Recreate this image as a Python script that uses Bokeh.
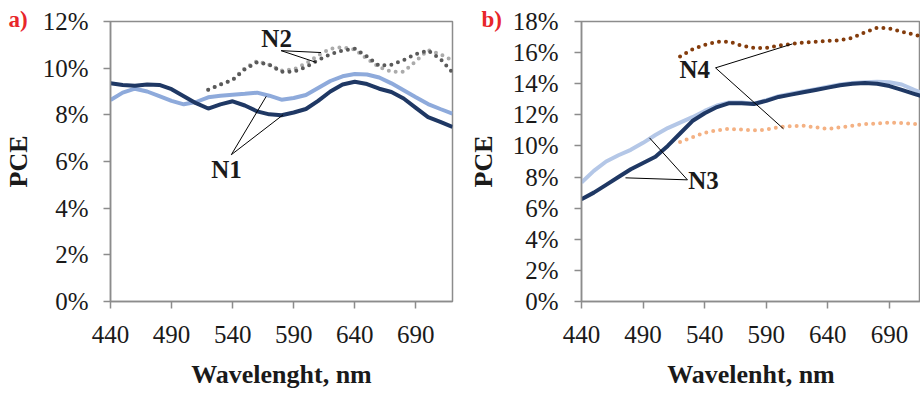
from bokeh.plotting import figure
from bokeh.layouts import row
from bokeh.models import Title, FixedTicker, PrintfTickFormatter
from bokeh.core.properties import value
from bokeh.embed import file_html
from bokeh.resources import INLINE

FONT = "Liberation Serif"

# ---------------- data: panel a ----------------
wl_a = [440, 450, 460, 470, 480, 490, 500, 510, 520, 530, 540, 550, 560, 570, 580,
        590, 600, 610, 620, 630, 640, 650, 660, 670, 680, 690, 700, 710, 720]
n1_dark = [9.35, 9.28, 9.25, 9.3, 9.28, 9.1, 8.8, 8.5, 8.27, 8.45, 8.58, 8.4, 8.15, 8.02, 7.98,
           8.1, 8.25, 8.6, 9.0, 9.3, 9.42, 9.32, 9.12, 8.98, 8.7, 8.3, 7.9, 7.7, 7.48]
n1_light = [8.63, 8.95, 9.12, 9.0, 8.8, 8.6, 8.45, 8.55, 8.75, 8.82, 8.86, 8.9, 8.95, 8.82, 8.65,
            8.72, 8.85, 9.15, 9.45, 9.65, 9.75, 9.73, 9.6, 9.35, 9.05, 8.75, 8.46, 8.25, 8.05]
wl_a2 = [520, 530, 540, 550, 560, 570, 580, 590, 600, 610, 620, 630, 640, 650, 660,
         670, 680, 690, 700, 710, 720]
n2_dark = [9.08, 9.3, 9.5, 9.95, 10.25, 10.15, 9.85, 9.85, 10.05, 10.35, 10.6, 10.75, 10.83, 10.5, 10.1,
           10.15, 10.35, 10.6, 10.75, 10.4, 9.82]
n2_light = [9.08, 9.3, 9.5, 10.0, 10.3, 10.15, 9.9, 9.95, 10.2, 10.55, 10.83, 10.9, 10.8, 10.4, 10.05,
            9.85, 9.85, 10.3, 10.78, 10.6, 10.33]

# ---------------- data: panel b ----------------
wl_b = [440, 450, 460, 470, 480, 490, 500, 510, 520, 530, 540, 550, 560, 570, 580,
        590, 600, 610, 620, 630, 640, 650, 660, 670, 680, 690, 700, 710, 720]
n3_dark = [6.58, 7.0, 7.5, 8.0, 8.5, 8.9, 9.3, 10.0, 10.8, 11.6, 12.1, 12.5, 12.75, 12.75, 12.7,
           12.9, 13.15, 13.3, 13.45, 13.6, 13.75, 13.9, 14.0, 14.05, 14.0, 13.85, 13.6, 13.35, 13.1]
n3_light = [7.65, 8.4, 9.0, 9.4, 9.75, 10.2, 10.7, 11.15, 11.5, 11.85, 12.25, 12.6, 12.8, 12.8, 12.72,
            12.95, 13.2, 13.35, 13.5, 13.65, 13.8, 13.95, 14.05, 14.1, 14.12, 14.1, 13.95, 13.6, 13.3]
wl_b2 = [520, 530, 540, 550, 560, 570, 580, 590, 600, 610, 620, 630, 640, 650, 660,
         670, 680, 690, 700, 710, 720]
n4_dark = [15.75, 16.2, 16.5, 16.7, 16.7, 16.45, 16.3, 16.3, 16.45, 16.55, 16.65, 16.7, 16.75, 16.8, 16.95,
           17.3, 17.6, 17.55, 17.35, 17.15, 16.95]
n4_light = [10.25, 10.55, 10.85, 11.0, 11.1, 11.05, 11.0, 11.05, 11.2, 11.28, 11.3, 11.2, 11.1, 11.2, 11.3,
            11.4, 11.45, 11.5, 11.48, 11.42, 11.4]

x_ticks = [440, 490, 540, 590, 640, 690]
ya_ticks = [0, 2, 4, 6, 8, 10, 12]
yb_ticks = [0, 2, 4, 6, 8, 10, 12, 14, 16, 18]

# annotations (data units): label text/pos and leader segments
ann_a_text = ["N2", "N1"]
ann_a_x = [576.0, 535.0]
ann_a_y = [11.29, 5.67]
lead_a_x0 = [579.7, 579.7, 538.9, 538.9]
lead_a_y0 = [10.75, 10.75, 6.29, 6.29]
lead_a_x1 = [612.4, 608.3, 567.5, 581.3]
lead_a_y1 = [10.67, 10.25, 8.79, 8.0]

ann_b_text = ["N4", "N3"]
ann_b_x = [532.0, 539.0]
ann_b_y = [14.89, 7.76]
lead_b_x0 = [548.8, 548.8, 526.0, 526.0]
lead_b_y0 = [15.02, 15.02, 7.82, 7.82]
lead_b_x1 = [611.3, 604.0, 475.7, 495.2]
lead_b_y1 = [16.56, 11.1, 7.95, 10.52]

FRAME = "#8c8c8c"


def style(p, yticks, xlabel, ystand, ylabstand):
    p.xgrid.visible = False
    p.ygrid.visible = False
    p.outline_line_color = FRAME
    p.outline_line_width = 1.5
    p.background_fill_color = "white"
    p.border_fill_color = "white"
    for ax in (p.xaxis[0], p.yaxis[0]):
        ax.axis_line_color = FRAME
        ax.axis_line_width = 1.5
        ax.major_tick_line_color = FRAME
        ax.major_tick_line_width = 1.5
        ax.major_tick_out = 7
        ax.major_tick_in = 0
        ax.minor_tick_out = 0
        ax.minor_tick_in = 0
        ax.major_label_text_font = FONT
        ax.major_label_text_font_size = "25px"
        ax.major_label_text_color = "#1a1a1a"
        ax.axis_label_text_font = FONT
        ax.axis_label_text_font_style = "bold"
        ax.axis_label_text_font_size = "26px"
        ax.axis_label_text_color = "#1a1a1a"
    p.xaxis[0].ticker = FixedTicker(ticks=x_ticks)
    p.yaxis[0].ticker = FixedTicker(ticks=yticks)
    p.yaxis[0].formatter = PrintfTickFormatter(format="%d%%")
    p.xaxis[0].axis_label = xlabel
    p.yaxis[0].axis_label = "PCE"
    p.xaxis[0].major_label_standoff = 17
    p.xaxis[0].axis_label_standoff = 14
    p.yaxis[0].major_label_standoff = ystand
    p.yaxis[0].axis_label_standoff = ylabstand


def dotted(p, x, y, color):
    p.line(x, y, line_color=color, line_width=4, line_dash="0 7", line_cap="round")


def tag(p, text, shift):
    # panel tag drawn as a title shifted left of the frame (side panels are not clipped)
    t = Title(text=text, align="left", vertical_align="top", offset=shift, standoff=-30,
              text_font=FONT, text_font_style="bold", text_font_size="23px",
              text_color="#e8262a")
    p.add_layout(t, "above")


# ---------------- panel a ----------------
pa = figure(width=460, height=394, x_range=(440, 720), y_range=(0, 12),
            output_backend="svg", toolbar_location=None,
            min_border_left=109, min_border_right=8, min_border_top=17, min_border_bottom=89)
style(pa, ya_ticks, "Wavelenght, nm", 15, 7)
dotted(pa, wl_a2, n2_light, "#ababab")
dotted(pa, wl_a2, n2_dark, "#5a5a5a")
pa.line(wl_a, n1_light, line_color="#8eaadb", line_width=4)
pa.line(wl_a, n1_dark, line_color="#1f3864", line_width=4)
pa.segment(lead_a_x0, lead_a_y0, lead_a_x1, lead_a_y1, line_color="black", line_width=1)
pa.text(x=ann_a_x, y=ann_a_y, text=ann_a_text, text_font=value(FONT), text_font_style="bold",
        text_font_size="25px", text_align="center", text_baseline="middle", text_color="#1a1a1a")
tag(pa, "a)", -102)

# ---------------- panel b ----------------
pb = figure(width=460, height=394, x_range=(440, 715.2), y_range=(0, 18),
            output_backend="svg", toolbar_location=None,
            min_border_left=121, min_border_right=0, min_border_top=21, min_border_bottom=93)
style(pb, yb_ticks, "Wavelenht, nm", 16, 12)
dotted(pb, wl_b2, n4_light, "#f4b183")
dotted(pb, wl_b2, n4_dark, "#843c0c")
pb.line(wl_b, n3_light, line_color="#b4c7e7", line_width=4)
pb.line(wl_b, n3_dark, line_color="#1f3864", line_width=4)
pb.segment(lead_b_x0, lead_b_y0, lead_b_x1, lead_b_y1, line_color="black", line_width=1)
pb.text(x=ann_b_x, y=ann_b_y, text=ann_b_text, text_font=value(FONT), text_font_style="bold",
        text_font_size="25px", text_align="center", text_baseline="middle", text_color="#1a1a1a")
tag(pb, "b)", -100)

layout = row(pa, pb, spacing=0)
open("out.html", "w").write(file_html(layout, INLINE))
